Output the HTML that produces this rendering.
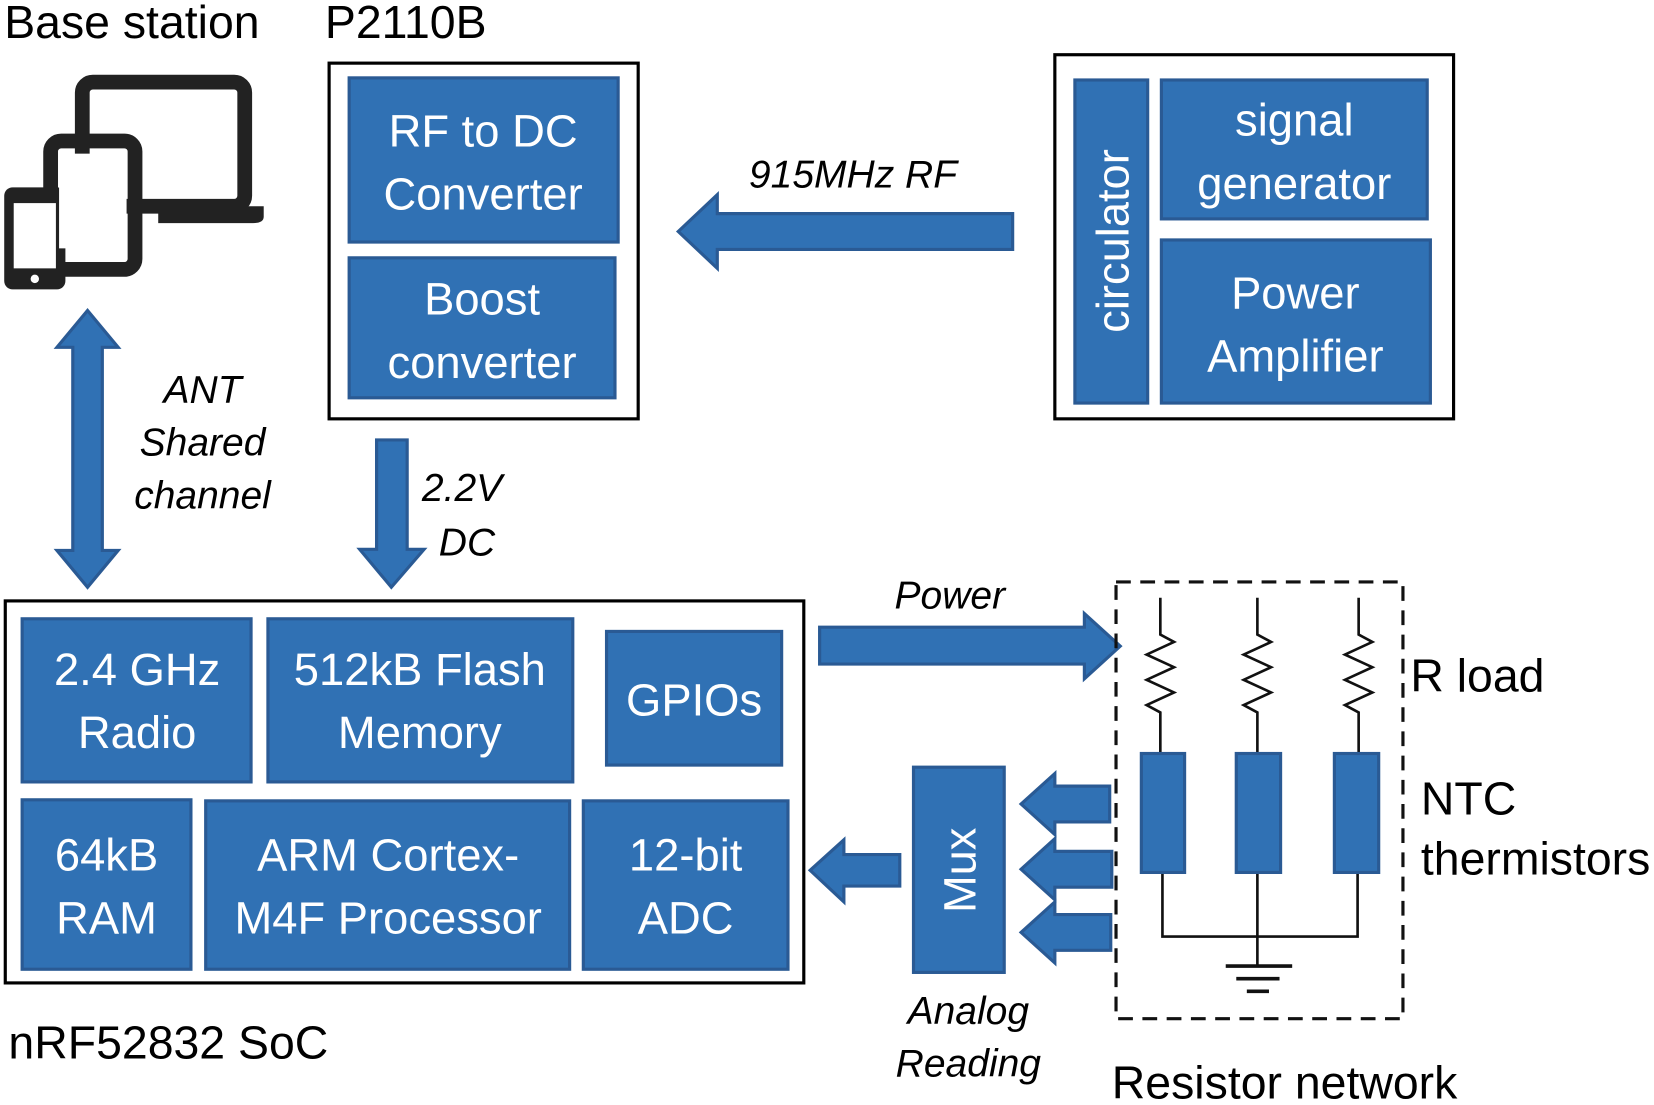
<!DOCTYPE html>
<html><head><meta charset="utf-8"><style>
html,body{margin:0;padding:0;background:#fff;}
svg{display:block;}
text{font-family:"Liberation Sans",sans-serif;}
.w{fill:#fff;font-size:43px;text-anchor:middle;}
.b{fill:#3071b4;stroke:#2a5a94;stroke-width:3;}
.k{fill:#000;font-size:44px;}
.i{fill:#000;font-size:37px;font-style:italic;}
</style></head><body>
<svg width="1654" height="1105" viewBox="0 0 1568 1050" preserveAspectRatio="none" xmlns="http://www.w3.org/2000/svg">
<text class="k" x="4" y="36">Base station</text>
<text class="k" x="308" y="36">P2110B</text>
<!-- devices icon -->
<g fill="none" stroke="#222">
<rect x="78" y="78" width="154" height="118" rx="10" stroke-width="14"/>
<rect x="48" y="134" width="80" height="122" rx="10" stroke-width="14"/>
</g>
<path d="M150 196 H250 V206 Q250 212 240 212 H150 Z" fill="#222"/>
<rect x="4" y="178" width="58" height="97" rx="8" fill="#222"/>
<rect x="13" y="193" width="40" height="62" fill="#fff"/>
<rect x="56" y="146" width="64" height="90" fill="#fff"/>
<circle cx="33" cy="265" r="4" fill="#fff"/>
<circle cx="90" cy="236" r="5" fill="#fff"/>
<!-- P2110B -->
<rect x="312" y="60" width="293" height="338" fill="none" stroke="#000" stroke-width="3"/>
<rect class="b" x="331" y="74" width="255" height="156"/>
<text class="w" x="458" y="139">RF to DC</text><text class="w" x="458" y="199">Converter</text>
<rect class="b" x="331" y="245" width="252" height="133"/>
<text class="w" x="457" y="299">Boost</text><text class="w" x="457" y="359">converter</text>
<!-- right box -->
<rect x="1000" y="52" width="378" height="346" fill="none" stroke="#000" stroke-width="3"/>
<rect class="b" x="1019" y="76" width="69" height="307"/>
<text class="w" transform="translate(1070,229) rotate(-90)">circulator</text>
<rect class="b" x="1101" y="76" width="252" height="132"/>
<text class="w" x="1227" y="129">signal</text><text class="w" x="1227" y="189">generator</text>
<rect class="b" x="1101" y="228" width="255" height="155"/>
<text class="w" x="1228" y="293">Power</text><text class="w" x="1228" y="353">Amplifier</text>
<!-- RF arrow -->
<path class="b" d="M960 203 H680 V185 L643 220 L680 255 V237 H960 Z"/>
<text class="i" x="710" y="178">915MHz RF</text>
<!-- ANT arrow -->
<path class="b" d="M83 295 L112 330 H97 V523 H112 L83 558 L54 523 H69 V330 H54 Z"/>
<text class="i" x="192" y="383" text-anchor="middle">ANT</text>
<text class="i" x="192" y="433" text-anchor="middle">Shared</text>
<text class="i" x="192" y="483" text-anchor="middle">channel</text>
<!-- 2.2V arrow -->
<path class="b" d="M357 418 H386 V522 H402 L371 558 L341 522 H357 Z"/>
<text class="i" x="400" y="476">2.2V</text><text class="i" x="416" y="528">DC</text>
<!-- SoC -->
<rect x="5" y="571" width="757" height="363" fill="none" stroke="#000" stroke-width="3"/>
<rect class="b" x="21" y="588" width="217" height="155"/>
<text class="w" x="130" y="651">2.4 GHz</text><text class="w" x="130" y="711">Radio</text>
<rect class="b" x="254" y="588" width="289" height="155"/>
<text class="w" x="398" y="651">512kB Flash</text><text class="w" x="398" y="711">Memory</text>
<rect class="b" x="575" y="600" width="166" height="127"/>
<text class="w" x="658" y="680">GPIOs</text>
<rect class="b" x="21" y="760" width="160" height="161"/>
<text class="w" x="101" y="827">64kB</text><text class="w" x="101" y="887">RAM</text>
<rect class="b" x="195" y="761" width="345" height="160"/>
<text class="w" x="368" y="827">ARM Cortex-</text><text class="w" x="368" y="887">M4F Processor</text>
<rect class="b" x="553" y="761" width="194" height="160"/>
<text class="w" x="650" y="827">12-bit</text><text class="w" x="650" y="887">ADC</text>
<text class="k" x="8" y="1006">nRF52832 SoC</text>
<!-- Power arrow -->
<path class="b" d="M777 596 H1028 V583 L1062 614 L1028 645 V631 H777 Z"/>
<text class="i" x="848" y="578">Power</text>
<!-- resistor network -->
<rect x="1058" y="553" width="272" height="415" fill="none" stroke="#111" stroke-width="3" stroke-dasharray="14,9"/>
<g fill="none" stroke="#111" stroke-width="2.5">
<path d="M1100 568 V603 L1113 610 L1087 622 L1113 634 L1087 646 L1113 658 L1087 670 L1100 677 V716"/>
<path d="M1192 568 V603 L1205 610 L1179 622 L1205 634 L1179 646 L1205 658 L1179 670 L1192 677 V716"/>
<path d="M1288 568 V603 L1301 610 L1275 622 L1301 634 L1275 646 L1301 658 L1275 670 L1288 677 V716"/>
<path d="M1102 829 V890 H1287 V829 M1192 829 V918"/>
<path d="M1162 918 H1225 M1172 930 H1213 M1182 942 H1203" stroke-width="3.5"/>
</g>
<rect class="b" x="1082" y="716" width="41" height="113"/>
<rect class="b" x="1172" y="716" width="42" height="113"/>
<rect class="b" x="1265" y="716" width="42" height="113"/>
<text class="k" x="1337" y="657">R load</text>
<text class="k" x="1347" y="774">NTC</text>
<text class="k" x="1347" y="831">thermistors</text>
<text class="k" x="1054" y="1044">Resistor network</text>
<!-- Mux -->
<rect class="b" x="866" y="729" width="86" height="195"/>
<text class="w" transform="translate(925,827) rotate(-90)">Mux</text>
<path class="b" d="M1052 747 H1000 V735 L968 764 L1000 793 V781 H1052 Z"/>
<path class="b" d="M1054 809 H1000 V797 L968 826 L1000 855 V843 H1054 Z"/>
<path class="b" d="M1053 869 H1000 V857 L968 886 L1000 915 V903 H1053 Z"/>
<path class="b" d="M853 812 H800 V798 L768 827 L800 857 V842 H853 Z"/>
<text class="i" x="918" y="973" text-anchor="middle">Analog</text>
<text class="i" x="918" y="1023" text-anchor="middle">Reading</text>
</svg>
</body></html>
